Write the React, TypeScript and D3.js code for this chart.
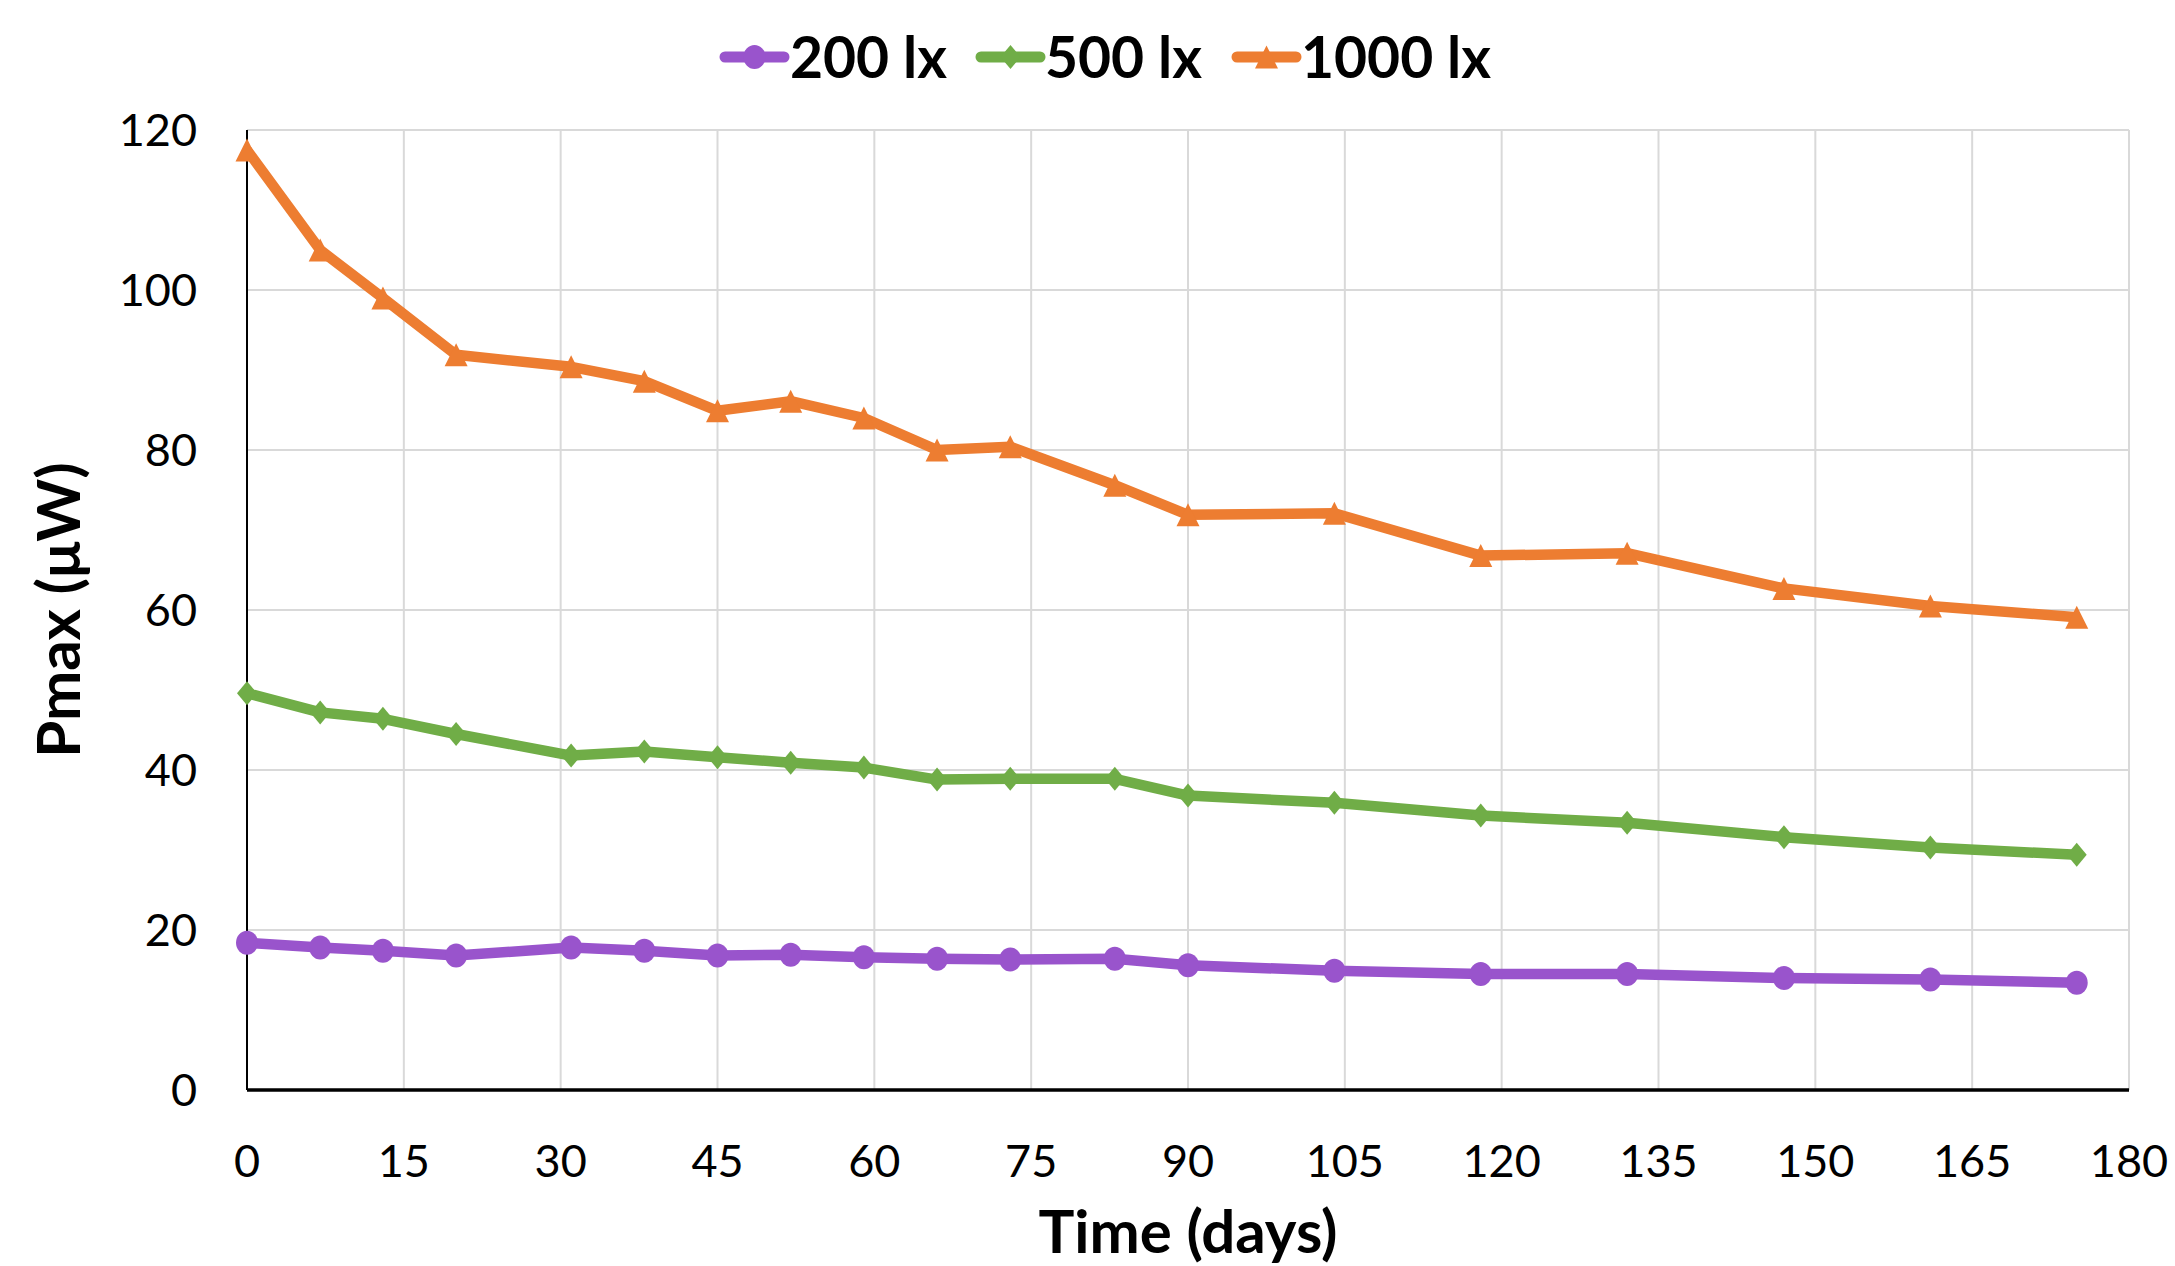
import React from "react";
import * as d3 from "d3";

const days = [0, 7, 13, 20, 31, 38, 45, 52, 59, 66, 73, 83, 90, 104, 118, 132, 147, 161, 175];
const lux200 = [18.4, 17.8, 17.4, 16.8, 17.8, 17.4, 16.8, 16.9, 16.6, 16.4, 16.3, 16.4, 15.6, 14.9, 14.5, 14.5, 14.0, 13.8, 13.4];
const lux500 = [49.6, 47.2, 46.4, 44.5, 41.8, 42.3, 41.6, 40.9, 40.3, 38.8, 38.9, 38.9, 36.8, 35.9, 34.3, 33.4, 31.6, 30.3, 29.4];
const lux1000 = [117.5, 105.0, 99.0, 91.9, 90.4, 88.6, 84.9, 86.1, 84.0, 80.0, 80.4, 75.6, 71.9, 72.1, 66.8, 67.1, 62.7, 60.5, 59.1];

const xTicks = [0, 15, 30, 45, 60, 75, 90, 105, 120, 135, 150, 165, 180];
const yTicks = [0, 20, 40, 60, 80, 100, 120];

const seriesNames = ["200 lx", "500 lx", "1000 lx"];
const seriesColors = ["#9954CC", "#70AD47", "#ED7D31"];
const seriesShapes = ["circle", "diamond", "triangle"];
const seriesValues = [lux200, lux500, lux1000];

const W = 2175;
const H = 1266;
const M = { left: 247, right: 2129, top: 130, bottom: 1090 };
const FONT = "Lato, 'Open Sans', sans-serif";

function Marker({ shape, x, y, color }: { shape: string; x: number; y: number; color: string }) {
  if (shape === "circle") {
    return <ellipse cx={x} cy={y} rx={11} ry={12} fill={color} />;
  }
  if (shape === "diamond") {
    const w = 10, h = 12;
    return <path d={`M${x},${y - h}L${x + w},${y}L${x},${y + h}L${x - w},${y}Z`} fill={color} />;
  }
  const w = 11.5, h = 11.5;
  return <path d={`M${x},${y - h}L${x + w},${y + h}L${x - w},${y + h}Z`} fill={color} />;
}

export default function App() {
  const x = d3.scaleLinear().domain([0, 180]).range([M.left, M.right]);
  const y = d3.scaleLinear().domain([0, 120]).range([M.bottom, M.top]);
  const line = d3
    .line<number>()
    .x((_, i) => x(days[i]))
    .y((d) => y(d));

  const legendItems = [
    { lineX: 725, textX: 790 },
    { lineX: 981, textX: 1045 },
    { lineX: 1237, textX: 1301 },
  ];

  return (
    <svg
      width={W}
      height={H}
      style={{ position: "absolute", left: 0, top: 0, background: "#fff" }}
      fontFamily={FONT}
    >
      <rect x={0} y={0} width={W} height={H} fill="#fff" />
      {/* gridlines */}
      {yTicks.map((t) => (
        <line key={"gy" + t} x1={M.left} x2={M.right} y1={y(t)} y2={y(t)} stroke="#D9D9D9" strokeWidth={2} />
      ))}
      {xTicks.map((t) => (
        <line key={"gx" + t} x1={x(t)} x2={x(t)} y1={M.top} y2={M.bottom} stroke="#D9D9D9" strokeWidth={2} />
      ))}
      {/* axes */}
      <line x1={x(0)} x2={x(0)} y1={M.top} y2={M.bottom} stroke="#000" strokeWidth={2} />
      <line x1={M.left} x2={M.right} y1={y(0)} y2={y(0)} stroke="#000" strokeWidth={3.5} />
      {/* tick labels */}
      {yTicks.map((t) => (
        <text key={"ty" + t} x={197} y={y(t)} dy="0.36em" textAnchor="end" fontSize={45} fill="#000">
          {t}
        </text>
      ))}
      {xTicks.map((t) => (
        <text key={"tx" + t} x={x(t)} y={1177} textAnchor="middle" fontSize={45} fill="#000">
          {t}
        </text>
      ))}
      {/* axis titles */}
      <text x={1188} y={1253} textAnchor="middle" fontSize={60} fontWeight="bold" fill="#000">
        Time (days)
      </text>
      <text
        transform={`translate(80, ${(M.top + M.bottom) / 2}) rotate(-90)`}
        textAnchor="middle"
        fontSize={60}
        fontWeight="bold"
        fill="#000"
      >
        Pmax (μW)
      </text>
      {/* series */}
      {seriesValues.map((vals, si) => (
        <g key={"s" + si}>
          <path
            d={line(vals) || ""}
            fill="none"
            stroke={seriesColors[si]}
            strokeWidth={10.5}
            strokeLinejoin="round"
          />
          {vals.map((v, i) => (
            <Marker key={i} shape={seriesShapes[si]} x={x(days[i])} y={y(v)} color={seriesColors[si]} />
          ))}
        </g>
      ))}
      {/* legend */}
      {seriesNames.map((name, si) => {
        const it = legendItems[si];
        return (
          <g key={"l" + si}>
            <line
              x1={it.lineX}
              x2={it.lineX + 59}
              y1={57}
              y2={57}
              stroke={seriesColors[si]}
              strokeWidth={11}
              strokeLinecap="round"
            />
            <Marker shape={seriesShapes[si]} x={it.lineX + 29.5} y={57} color={seriesColors[si]} />
            <text x={it.textX} y={57} dy="0.36em" fontSize={57} fontWeight="bold" fill="#000">
              {name}
            </text>
          </g>
        );
      })}
    </svg>
  );
}
